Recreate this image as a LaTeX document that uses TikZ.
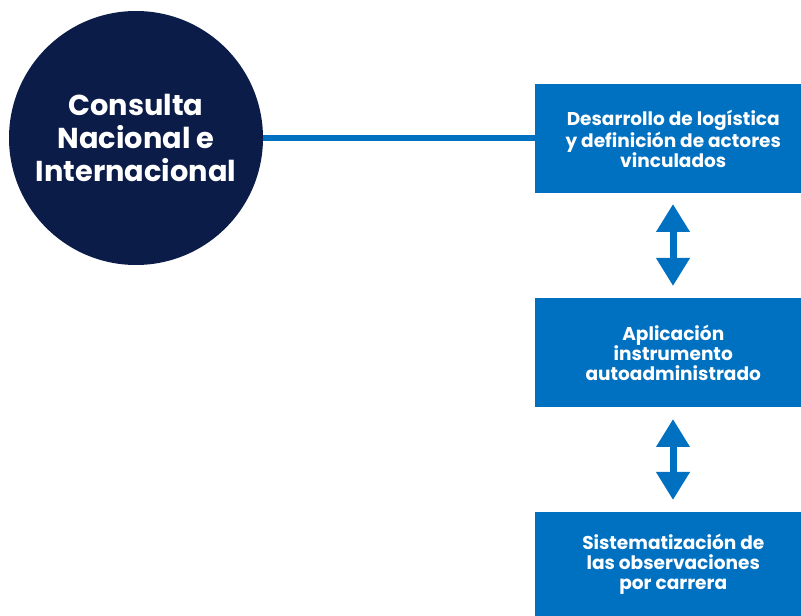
\documentclass[tikz,border=0pt]{standalone}
\usepackage{fontspec}
\setmainfont{Poppins}
\usetikzlibrary{arrows.meta}
\definecolor{navy}{HTML}{0B1C48}
\definecolor{blu}{HTML}{0070C0}
\tikzset{
  stepbox/.style={fill=blu, draw=none, minimum width=266*0.75pt, minimum height=109*0.75pt, inner sep=0pt},
  steptext/.style={text=white, align=center, inner sep=0pt, xshift=5*0.75pt, font=\fontsize{13.9pt}{15pt}\selectfont\bfseries},
  dblarrow/.style={draw=blu, fill=blu, line width=7*0.75pt, {Triangle[width=32*0.75pt,length=28*0.75pt]}-{Triangle[width=32*0.75pt,length=28*0.75pt]}},
}
\begin{document}
\begin{tikzpicture}[x=0.75pt,y=-0.75pt]
\useasboundingbox (0,0) rectangle (801,616);
\node[circle, fill=navy, minimum size=254*0.75pt, inner sep=0pt, text=white, align=center, font=\fontsize{21.6pt}{24.8pt}\selectfont\bfseries] (c) at (136,138) {Consulta\\Nacional e\\Internacional};
\node[stepbox, anchor=north west, label={[steptext]center:Desarrollo de logística\\y definición de actores\\vinculados}] (b1) at (535,84) {};
\node[stepbox, anchor=north west, label={[steptext]center:Aplicación\\instrumento\\autoadministrado}] (b2) at (535,298) {};
\node[stepbox, anchor=north west, minimum height=104*0.75pt, label={[steptext]center:Sistematización de\\las observaciones\\por carrera}] (b3) at (535,512) {};
\draw[blu, line width=6.5*0.75pt] (c.east) -- (b1.west|-c.east);
\coordinate (a1t) at (673,204);
\coordinate (a1b) at (673,286);
\coordinate (a2t) at (673,419);
\coordinate (a2b) at (673,500);
\draw[dblarrow] (a1t) -- (a1b);
\draw[dblarrow] (a2t) -- (a2b);
\end{tikzpicture}
\end{document}
